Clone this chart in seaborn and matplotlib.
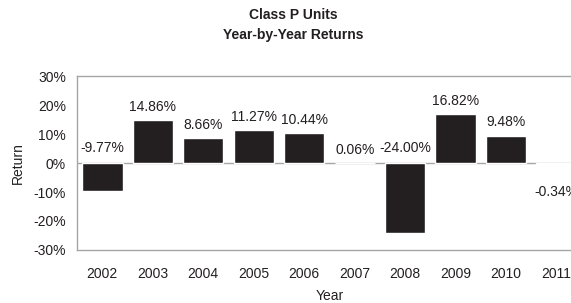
import matplotlib
matplotlib.use("Agg")
import matplotlib.pyplot as plt
import pandas as pd
import seaborn as sns

years = ["2002", "2003", "2004", "2005", "2006", "2007", "2008", "2009", "2010", "2011"]
returns = [-9.77, 14.86, 8.66, 11.27, 10.44, 0.06, -24.00, 16.82, 9.48, -0.34]
yticks = [-30, -20, -10, 0, 10, 20, 30]

sns.set_style("white")
plt.rcParams["font.family"] = ["Liberation Sans", "DejaVu Sans"]

ink = "#231f20"
grey = "#a6a6a6"

df = pd.DataFrame({"Year": years, "Return": returns})

fig = plt.figure(figsize=(5.71, 3.03), dpi=100)
ax = fig.add_axes([0.135, 0.175, 0.884, 0.574])

sns.barplot(data=df, x="Year", y="Return", color=ink, width=0.8, saturation=1, ax=ax)

ax.set_xlim(-0.5, len(years) - 0.5)
ax.set_ylim(-30, 30)
ax.set_yticks(yticks)
ax.set_yticklabels([f"{t}%" for t in yticks])
ax.tick_params(axis="both", labelsize=10, colors=ink, length=0)
ax.tick_params(axis="x", pad=12)
ax.tick_params(axis="y", pad=8)

ax.spines["right"].set_visible(False)
for s in ["left", "top", "bottom"]:
    ax.spines[s].set_color(grey)
    ax.spines[s].set_linewidth(1)
ax.axhline(0, color=grey, lw=1, zorder=0.5)

# value labels
for i, v in enumerate(returns):
    if v >= 0:
        ax.annotate(f"{v:.2f}%", (i, v), xytext=(0, 9.5), textcoords="offset points",
                    ha="center", va="center", fontsize=10, color=ink)
    elif v < -1:
        ax.annotate(f"{v:.2f}%", (i, 0), xytext=(0, 11), textcoords="offset points",
                    ha="center", va="center", fontsize=10, color=ink)
    else:
        ax.annotate(f"{v:.2f}%", (i, 0), xytext=(0, -21), textcoords="offset points",
                    ha="center", va="center", fontsize=10, color=ink)

ax.set_xlabel("Year", fontsize=10, color=ink, labelpad=6)
ax.set_ylabel("Return", fontsize=10, color=ink, labelpad=6)

fig.text(0.513, 0.95, "Class P Units", ha="center", va="center",
         fontsize=10, fontweight="bold", color=ink)
fig.text(0.513, 0.885, "Year-by-Year Returns", ha="center", va="center",
         fontsize=10, fontweight="bold", color=ink)

fig.savefig("out.png", dpi=100)
